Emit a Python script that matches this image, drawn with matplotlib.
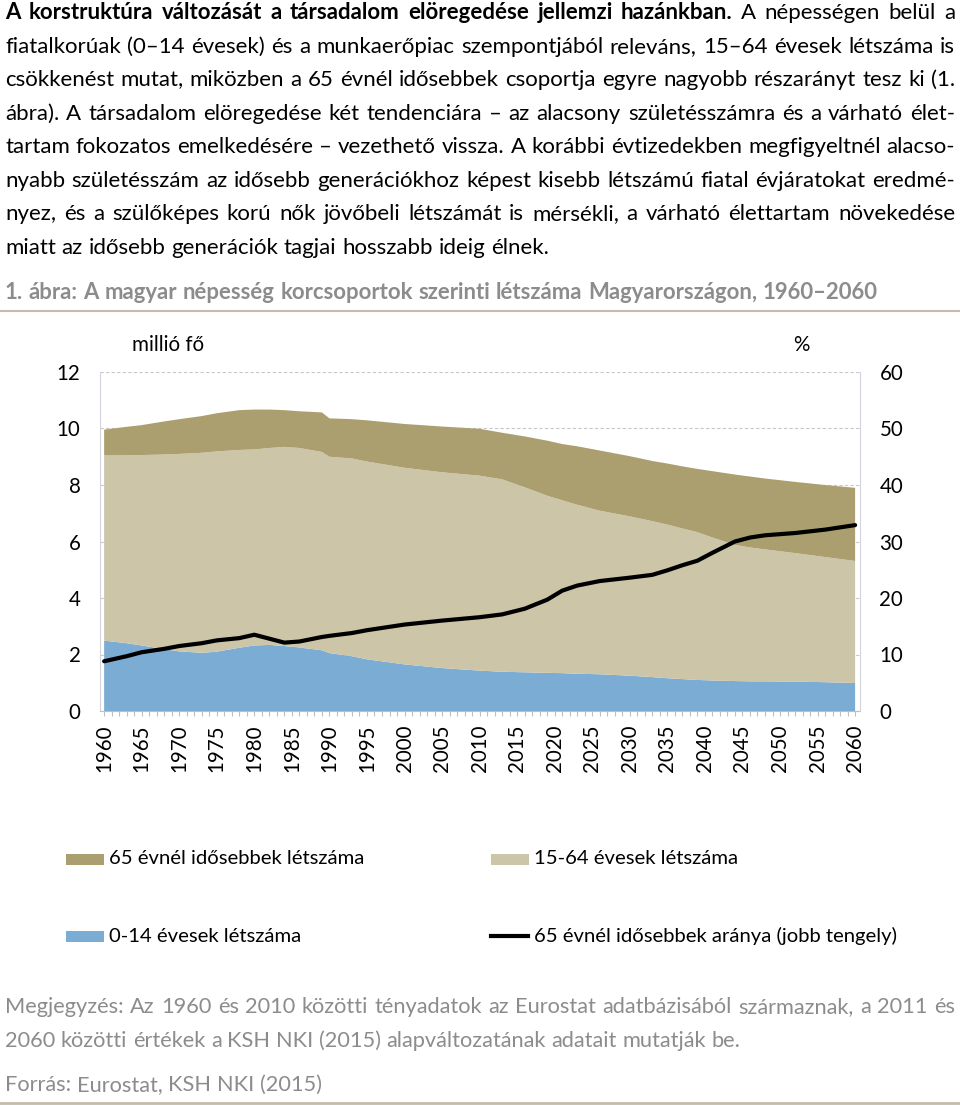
import numpy as np
import matplotlib
matplotlib.use("Agg")
import matplotlib.pyplot as plt
from matplotlib.lines import Line2D
from matplotlib.patches import Rectangle

plt.rcParams['font.family'] = ['Lato', 'DejaVu Sans']

# --- adatok (leolvasva az ábráról) ---
evek = [1960, 1963, 1965, 1968, 1970, 1973, 1975, 1978, 1980, 1982, 1984, 1986,
        1989, 1990, 1993, 1995, 2000, 2005, 2010, 2013, 2016, 2019, 2021, 2023,
        2026, 2030, 2033, 2035, 2037, 2039, 2041, 2044, 2046, 2048, 2052, 2056, 2060]
fiatal_0_14 = [2.49, 2.40, 2.32, 2.19, 2.11, 2.06, 2.10, 2.24, 2.32, 2.34, 2.30, 2.25,
               2.15, 2.05, 1.94, 1.83, 1.65, 1.52, 1.43, 1.39, 1.37, 1.35, 1.34, 1.32,
               1.30, 1.25, 1.20, 1.16, 1.13, 1.10, 1.08, 1.06, 1.05, 1.05, 1.04, 1.02, 0.99]
aktiv_15_64 = [6.56, 6.65, 6.74, 6.89, 6.99, 7.08, 7.09, 7.00, 6.94, 6.97, 7.05, 7.06,
               7.02, 6.95, 7.00, 7.00, 6.96, 6.93, 6.90, 6.81, 6.55, 6.27, 6.12, 5.98,
               5.79, 5.64, 5.52, 5.44, 5.33, 5.23, 5.06, 4.82, 4.74, 4.67, 4.55, 4.43, 4.32]
idos_65 = [0.91, 1.01, 1.06, 1.17, 1.23, 1.30, 1.35, 1.41, 1.41, 1.36, 1.30, 1.30,
           1.40, 1.36, 1.39, 1.46, 1.55, 1.62, 1.66, 1.65, 1.80, 1.95, 1.99, 2.07,
           2.13, 2.13, 2.13, 2.16, 2.20, 2.24, 2.35, 2.49, 2.51, 2.51, 2.52, 2.55, 2.59]
idos_arany = [8.8, 9.7, 10.4, 11.0, 11.5, 12.0, 12.5, 12.9, 13.5, 12.8, 12.1, 12.3,
              13.1, 13.3, 13.8, 14.3, 15.3, 16.0, 16.6, 17.1, 18.1, 19.7, 21.3, 22.2,
              23.0, 23.6, 24.1, 24.9, 25.8, 26.6, 28.0, 30.0, 30.7, 31.1, 31.5, 32.1, 32.9]

bal_tickek = [0, 2, 4, 6, 8, 10, 12]
jobb_tickek = [0, 10, 20, 30, 40, 50, 60]
ev_cimkek = list(range(1960, 2061, 5))

c_idos = '#ab9f6f'
c_aktiv = '#ccc5a8'
c_fiatal = '#7badd4'
szurke = '#8c8c8c'

bekezdes = [
    "A korstruktúra változását a társadalom elöregedése jellemzi hazánkban. A népességen belül a",
    "fiatalkorúak (0–14 évesek) és a munkaerőpiac szempontjából releváns, 15–64 évesek létszáma is",
    "csökkenést mutat, miközben a 65 évnél idősebbek csoportja egyre nagyobb részarányt tesz ki (1.",
    "ábra). A társadalom elöregedése két tendenciára – az alacsony születésszámra és a várható élet-",
    "tartam fokozatos emelkedésére – vezethető vissza. A korábbi évtizedekben megfigyeltnél alacso-",
    "nyabb születésszám az idősebb generációkhoz képest kisebb létszámú fiatal évjáratokat eredmé-",
    "nyez, és a szülőképes korú nők jövőbeli létszámát is mérsékli, a várható élettartam növekedése",
    "miatt az idősebb generációk tagjai hosszabb ideig élnek.",
]
sor_y = [13, 47, 80, 114, 147, 181, 214, 248]

W, H = 960, 1105
fig = plt.figure(figsize=(W / 100, H / 100), dpi=100)
renderer = fig.canvas.get_renderer()


def fx(px):
    return px / W


def fy(py):
    return 1 - py / H


def szelesseg(szoveg, size, weight):
    t = fig.text(0, 0, szoveg, fontsize=size, fontweight=weight)
    w = t.get_window_extent(renderer).width
    t.remove()
    return w


def sor(szoveg, y, size, color='black', sorkizart=True, felkover=0, x0=5, x1=955, weight='normal'):
    szavak = szoveg.split(' ')
    sulyok = ['bold' if i < felkover else weight for i in range(len(szavak))]
    # ha nem fér ki, kicsit kisebb betű
    while True:
        szelek = [szelesseg(sz, size, w) for sz, w in zip(szavak, sulyok)]
        alap_koz = szelesseg('a a', size, 'normal') - szelesseg('aa', size, 'normal')
        if sum(szelek) + 0.7 * alap_koz * (len(szavak) - 1) <= x1 - x0 or size < 8:
            break
        size -= 0.2
    if sorkizart and len(szavak) > 1:
        koz = (x1 - x0 - sum(szelek)) / (len(szavak) - 1)
    else:
        koz = alap_koz
    # alapvonal: a sor közepe alatt kb. 0.26 em
    alapvonal = y + 0.26 * size * 100 / 72
    x = x0
    for sz, w, wd in zip(szavak, sulyok, szelek):
        fig.text(fx(x), fy(alapvonal), sz, fontsize=size, color=color, fontweight=w,
                 va='baseline', ha='left')
        x += wd + koz


for i, (s, y) in enumerate(zip(bekezdes, sor_y)):
    sor(s, y, 16, sorkizart=(i < len(bekezdes) - 1), felkover=8 if i == 0 else 0)

sor("1. ábra: A magyar népesség korcsoportok szerinti létszáma Magyarországon, 1960–2060",
    293, 15.9, color=szurke, sorkizart=False, weight='bold')
fig.add_artist(Line2D([0, 1], [fy(311)] * 2, color='#c3bcaa', lw=1.5))

# --- diagram ---
ax = fig.add_axes([fx(100), fy(711), fx(760), fy(372) - fy(711)])
ax.stackplot(evek, fiatal_0_14, aktiv_15_64, idos_65,
             colors=[c_fiatal, c_aktiv, c_idos], zorder=2, linewidth=0)
ax.set_xlim(1959.45, 2060.65)
ax.set_ylim(0, 12)
ax.set_yticks(bal_tickek)
ax.yaxis.grid(True, linestyle=(0, (3, 2)), color='#c8c8c8', linewidth=0.8)
ax.set_axisbelow(True)
ax.set_xticks(ev_cimkek)
ax.set_xticks(range(1960, 2061), minor=True)
ax.tick_params(axis='x', which='both', length=3.5, color='#bfbfbf', width=0.8,
               labelsize=14.8, labelrotation=90, pad=6)
ax.tick_params(axis='y', length=0, labelsize=14.8, pad=14)
for sp in ['top', 'right']:
    ax.spines[sp].set_visible(False)
ax.spines['left'].set_color('#d3d3df')
ax.spines['bottom'].set_color('#bfbfbf')

ax2 = ax.twinx()
ax2.plot(evek, idos_arany, color='black', lw=3, solid_capstyle='round',
         solid_joinstyle='round', zorder=5)
ax2.set_ylim(0, 60)
ax2.set_yticks(jobb_tickek)
ax2.tick_params(axis='y', length=0, labelsize=14.8, pad=14)
for sp in ['top', 'left', 'bottom']:
    ax2.spines[sp].set_visible(False)
ax2.spines['right'].set_color('#d3d3df')

fig.text(fx(132), fy(345), "millió fő", fontsize=14.8, va='center', ha='left')
fig.text(fx(801), fy(345), "%", fontsize=14.8, va='center', ha='center')

# --- jelmagyarázat ---
jelek = [
    (66, 859, 'patch', c_idos, "65 évnél idősebbek létszáma"),
    (491, 859, 'patch', c_aktiv, "15-64 évesek létszáma"),
    (66, 936, 'patch', c_fiatal, "0-14 évesek létszáma"),
    (491, 936, 'line', 'black', "65 évnél idősebbek aránya (jobb tengely)"),
]
for x, y, tipus, szin, cimke in jelek:
    if tipus == 'patch':
        fig.add_artist(Rectangle((fx(x), fy(y + 5.5)), 38 / W, 11 / H,
                                 transform=fig.transFigure, color=szin, lw=0))
    else:
        fig.add_artist(Line2D([fx(x), fx(x + 37)], [fy(y)] * 2, color=szin, lw=3))
    fig.text(fx(x + 43), fy(y), cimke, fontsize=14.6, va='center', ha='left')

# --- megjegyzés, forrás ---
sor("Megjegyzés: Az 1960 és 2010 közötti tényadatok az Eurostat adatbázisából származnak, a 2011 és",
    1007, 15.7, color=szurke)
sor("2060 közötti értékek a KSH NKI (2015) alapváltozatának adatait mutatják be.",
    1041, 15.7, color=szurke, sorkizart=False)
sor("Forrás: Eurostat, KSH NKI (2015)", 1085, 15.7, color=szurke, sorkizart=False)
fig.add_artist(Line2D([0, 1], [fy(1103)] * 2, color='#c3bcaa', lw=2))

fig.savefig("out.png", dpi=100)
